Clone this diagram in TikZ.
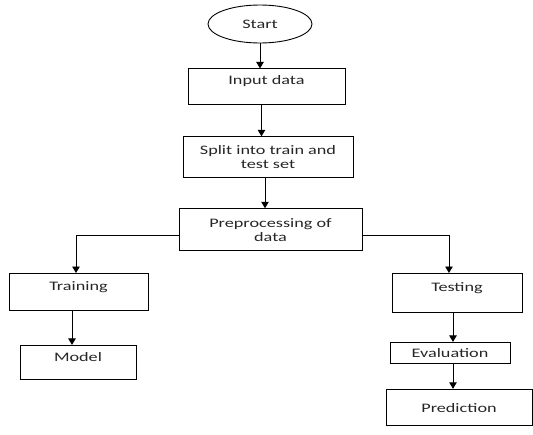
\documentclass[tikz,border=0pt]{standalone}
\usepackage{fontspec}
\setmainfont[FakeStretch=1.4]{Carlito}
\usetikzlibrary{positioning,shapes.geometric,arrows.meta}

\begin{document}
\begin{tikzpicture}[x=1pt,y=-1pt,
  every node/.style={font=\fontsize{13}{14}\selectfont,text=black!85},
  box/.style={draw,line width=0.9pt,inner sep=0pt,align=center},
  topbox/.style 2 args={box,text height=#1pt,text depth=#2pt},
  oval/.style={draw,ellipse,line width=0.9pt,inner sep=0pt,minimum width=104pt,minimum height=38pt},
  arr/.style={line width=0.9pt,-{Triangle[width=7.5pt,length=6.5pt]}}]
\useasboundingbox (0,0) rectangle (533,434);
\node[oval] (start) at (260,24) {Start};
\node[topbox={16}{20},minimum width=157pt,below=25pt of start,xshift=6.5pt] (input) {Input data};
\node[box,minimum width=170pt,minimum height=41pt,below=31pt of input,xshift=1.5pt] (split) {Split into train and\\test set};
\node[box,minimum width=183pt,minimum height=42pt,below=30pt of split,xshift=2.5pt] (prep) {Preprocessing of\\data};
\node[topbox={17}{20},minimum width=139pt,anchor=north] (train) at (78.5,273) {Training};
\node[topbox={16}{18},minimum width=116pt,below=34pt of train,xshift=-0.5pt] (model) {Model};
\node[topbox={18}{21},minimum width=130pt,anchor=north] (test) at (457,273) {Testing};
\node[box,minimum width=120pt,minimum height=21pt,below=29pt of test,xshift=-7pt] (eval) {Evaluation};
\node[topbox={23}{13},minimum width=146pt,below=25pt of eval,xshift=9pt] (pred) {Prediction};
\draw[arr] (start) -- (start |- input.north);
\draw[arr] ([xshift=-5pt]input.south) -- ([xshift=-5pt]input.south |- split.north);
\draw[arr] ([xshift=-3pt]split.south) -- ([xshift=-3pt]split.south |- prep.north);
\draw[arr] ([yshift=-5.5pt]prep.west) -| ([xshift=-2.5pt]train.north);
\draw[arr] ([yshift=-5.5pt]prep.east) -| ([xshift=-8pt]test.north);
\draw[arr] ([xshift=-6.5pt]train.south) -- ([xshift=-6.5pt]train.south |- model.north);
\draw[arr] ([xshift=-4pt]test.south) -- ([xshift=-4pt]test.south |- eval.north);
\draw[arr] ([xshift=3pt]eval.south) -- ([xshift=3pt]eval.south |- pred.north);
\end{tikzpicture}
\end{document}
